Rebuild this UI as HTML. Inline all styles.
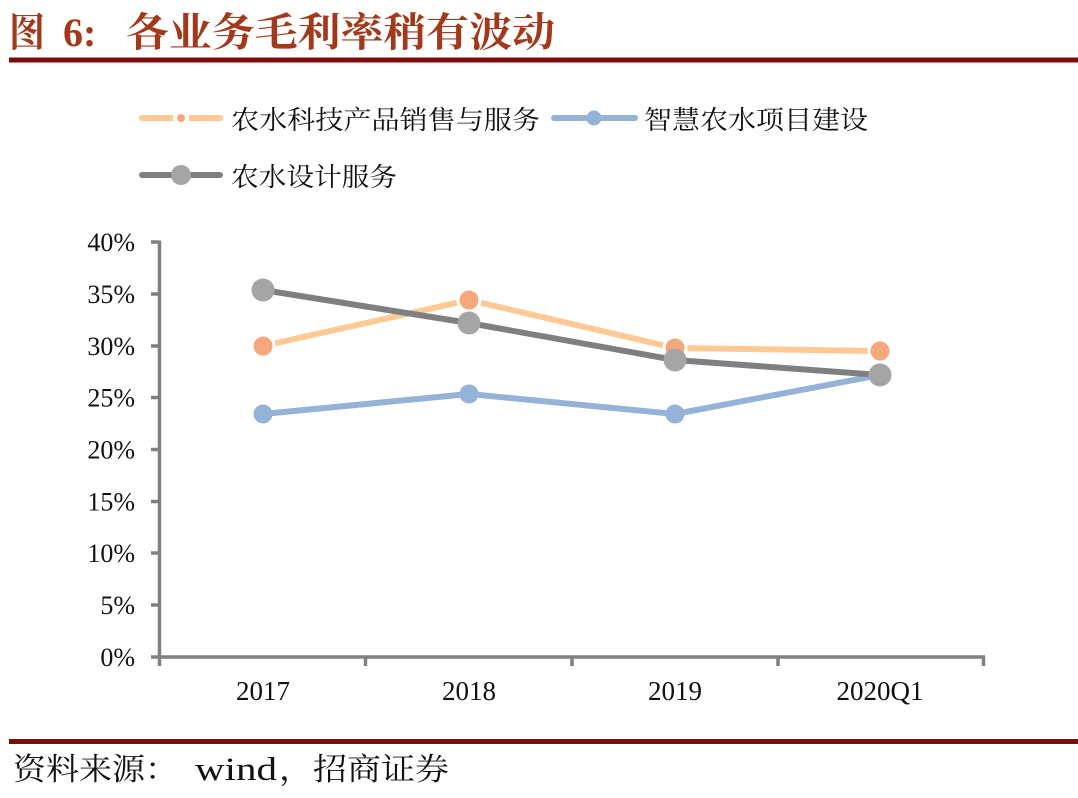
<!DOCTYPE html>
<html>
<head>
<meta charset="utf-8">
<style>
  html, body { margin:0; padding:0; background:#ffffff; }
  body { width:1078px; height:798px; overflow:hidden; }
  svg { display:block; }
</style>
</head>
<body>
<svg width="1078" height="798" viewBox="0 0 1078 798" xmlns="http://www.w3.org/2000/svg">
  <rect x="0" y="0" width="1078" height="798" fill="#ffffff"/>

  <!-- Title -->
  <text x="9" y="46" font-family="'Liberation Serif','Noto Serif CJK SC',serif" font-weight="bold" font-size="40" fill="#A2391A" textLength="36" lengthAdjust="spacingAndGlyphs">图</text>
  <text x="63" y="46" font-family="'Liberation Serif','Noto Serif CJK SC',serif" font-weight="bold" font-size="40" fill="#A2391A">6:</text>
  <text x="126" y="46" font-family="'Liberation Serif','Noto Serif CJK SC',serif" font-weight="bold" font-size="40" fill="#A2391A" textLength="429" lengthAdjust="spacingAndGlyphs">各业务毛利率稍有波动</text>

  <!-- Top rule -->
  <rect x="9" y="57.5" width="1069" height="5" fill="#7F0A0A"/>

  <!-- Legend -->
  <g>
    <line x1="142" y1="118" x2="220" y2="118" stroke="#FFC995" stroke-width="6" stroke-linecap="round"/>
    <circle cx="181" cy="118" r="6" fill="#F4A87C" stroke="#ffffff" stroke-width="4"/>
    <text x="231" y="129" font-family="'Liberation Serif','Noto Serif CJK SC',serif" font-size="26" fill="#111" textLength="309" lengthAdjust="spacingAndGlyphs">农水科技产品销售与服务</text>

    <line x1="554" y1="118" x2="635" y2="118" stroke="#95B3D7" stroke-width="6" stroke-linecap="round"/>
    <circle cx="594" cy="118" r="7.5" fill="#95B3D7"/>
    <text x="644" y="129" font-family="'Liberation Serif','Noto Serif CJK SC',serif" font-size="26" fill="#111" textLength="224" lengthAdjust="spacingAndGlyphs">智慧农水项目建设</text>

    <line x1="142" y1="175" x2="220" y2="175" stroke="#7F7F7F" stroke-width="6" stroke-linecap="round"/>
    <circle cx="181" cy="175" r="10" fill="#A5A5A5"/>
    <text x="231" y="186" font-family="'Liberation Serif','Noto Serif CJK SC',serif" font-size="26" fill="#111" textLength="166" lengthAdjust="spacingAndGlyphs">农水设计服务</text>
  </g>

  <!-- Axes -->
  <g stroke="#808080" stroke-width="3.5" fill="none">
    <line x1="159.5" y1="240.5" x2="159.5" y2="658.5"/>
    <line x1="158" y1="657" x2="985" y2="657"/>
    <line x1="151" y1="242" x2="159.5" y2="242"/>
    <line x1="151" y1="294" x2="159.5" y2="294"/>
    <line x1="151" y1="346" x2="159.5" y2="346"/>
    <line x1="151" y1="397.5" x2="159.5" y2="397.5"/>
    <line x1="151" y1="449.5" x2="159.5" y2="449.5"/>
    <line x1="151" y1="501.5" x2="159.5" y2="501.5"/>
    <line x1="151" y1="553" x2="159.5" y2="553"/>
    <line x1="151" y1="605" x2="159.5" y2="605"/>
    <line x1="151" y1="657" x2="159.5" y2="657"/>
    <line x1="159.5" y1="657" x2="159.5" y2="666"/>
    <line x1="365.5" y1="657" x2="365.5" y2="666"/>
    <line x1="572" y1="657" x2="572" y2="666"/>
    <line x1="778" y1="657" x2="778" y2="666"/>
    <line x1="983.5" y1="657" x2="983.5" y2="666"/>
  </g>

  <!-- Y labels -->
  <g font-family="'Liberation Serif',serif" font-size="26" fill="#111" text-anchor="end">
    <text x="135" y="251">40%</text>
    <text x="135" y="303">35%</text>
    <text x="135" y="355">30%</text>
    <text x="135" y="406.5">25%</text>
    <text x="135" y="458.5">20%</text>
    <text x="135" y="510.5">15%</text>
    <text x="135" y="562">10%</text>
    <text x="135" y="614">5%</text>
    <text x="135" y="666">0%</text>
  </g>

  <!-- X labels -->
  <g font-family="'Liberation Serif',serif" font-size="27" fill="#111" text-anchor="middle">
    <text x="263" y="700">2017</text>
    <text x="469" y="700">2018</text>
    <text x="675" y="700">2019</text>
    <text x="880" y="700">2020Q1</text>
  </g>

  <!-- Series -->
  <polyline points="263,346 469,300 675,348 880,351" fill="none" stroke="#FFC995" stroke-width="6" stroke-linejoin="round"/>
  <polyline points="263,414 469,394 675,414 880,375" fill="none" stroke="#95B3D7" stroke-width="6" stroke-linejoin="round"/>
  <polyline points="263,290 469,323 675,360 880,375" fill="none" stroke="#7F7F7F" stroke-width="6" stroke-linejoin="round"/>

  <g fill="#F4A87C" stroke="#ffffff" stroke-width="3">
    <circle cx="263" cy="346" r="11"/>
    <circle cx="469" cy="300" r="11"/>
    <circle cx="675" cy="348" r="11"/>
    <circle cx="880" cy="351" r="11"/>
  </g>
  <g fill="#95B3D7">
    <circle cx="263" cy="414" r="9.5"/>
    <circle cx="469" cy="394" r="9.5"/>
    <circle cx="675" cy="414" r="9.5"/>
    <circle cx="880" cy="375" r="9.5"/>
  </g>
  <g fill="#A5A5A5">
    <circle cx="263" cy="290" r="11.5"/>
    <circle cx="469" cy="323" r="11.5"/>
    <circle cx="675" cy="360" r="11.5"/>
    <circle cx="880" cy="375" r="11.5"/>
  </g>

  <!-- Bottom rule -->
  <rect x="9" y="739" width="1069" height="5" fill="#7F0A0A"/>

  <!-- Source -->
  <text x="13" y="780" font-family="'Liberation Serif','Noto Serif CJK SC',serif" font-size="31" fill="#111" textLength="165" lengthAdjust="spacingAndGlyphs">资料来源：</text>
  <text x="195" y="780" font-family="'Liberation Serif',serif" font-size="33" fill="#111" textLength="82" lengthAdjust="spacingAndGlyphs">wind</text>
  <text x="279" y="780" font-family="'Liberation Serif','Noto Serif CJK SC',serif" font-size="31" fill="#111" textLength="170" lengthAdjust="spacingAndGlyphs">，招商证券</text>
</svg>
</body>
</html>
